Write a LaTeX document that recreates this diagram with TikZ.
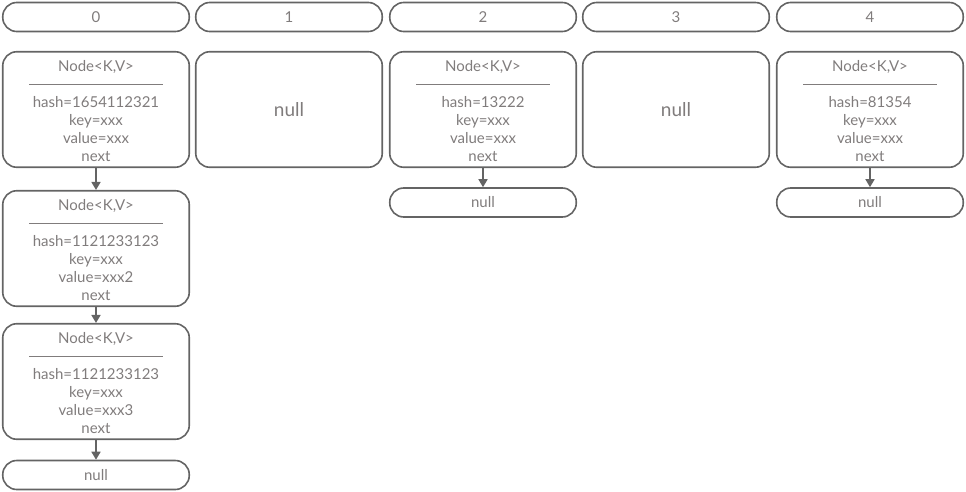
\documentclass[tikz,border=0pt]{standalone}
\usepackage{fontspec}
\setmainfont{Lato}
\usetikzlibrary{arrows.meta}
\definecolor{bord}{RGB}{100,100,100}
\definecolor{txt}{RGB}{128,124,124}
\newcommand\sepline{\rule[5pt]{134pt}{0.8pt}}
\newcommand\toplift{\rule{0pt}{15pt}}
\begin{document}
\begin{tikzpicture}[x=1pt,y=-1pt,
 box/.style={draw=bord,line width=1.6pt,rounded corners=14pt,inner sep=0pt,text=txt,align=center,font=\fontsize{15}{18}\selectfont},
 hdr/.style={box,minimum width=186.5pt,minimum height=29pt},
 entry/.style={box,minimum width=186.5pt,minimum height=115.5pt},
 bignull/.style={entry,font=\fontsize{19}{20}\selectfont},
 link/.style={draw=bord,line width=1.6pt,-{Triangle[length=8pt,width=9pt]}}]
\useasboundingbox (0,0) rectangle (966,492);
% headers
\node[hdr] (h0) at (96,17) {0};
\node[hdr] (h1) at (289,17) {1};
\node[hdr] (h2) at (483,17) {2};
\node[hdr] (h3) at (676,17) {3};
\node[hdr] (h4) at (870,17) {4};
% bucket 0
\node[entry] (a1) at (96,109.5) {\toplift Node<K,V>\\\sepline\\hash=1654112321\\key=xxx\\value=xxx\\next};
\node[entry] (a2) at (96,248.5) {\toplift Node<K,V>\\\sepline\\hash=1121233123\\key=xxx\\value=xxx2\\next};
\node[entry] (a3) at (96,381.5) {\toplift Node<K,V>\\\sepline\\hash=1121233123\\key=xxx\\value=xxx3\\next};
\node[hdr] (a4) at (96,475) {null};
% bucket 1
\node[bignull] (b1) at (289,109.5) {null};
% bucket 2
\node[entry] (c1) at (483,109.5) {\toplift Node<K,V>\\\sepline\\hash=13222\\key=xxx\\value=xxx\\next};
\node[hdr] (c2) at (483,202.5) {null};
% bucket 3
\node[bignull] (d1) at (676,109.5) {null};
% bucket 4
\node[entry] (e1) at (870,109.5) {\toplift Node<K,V>\\\sepline\\hash=81354\\key=xxx\\value=xxx\\next};
\node[hdr] (e2) at (870,202.5) {null};
% links
\draw[link] (a1) -- (a2);
\draw[link] (a2) -- (a3);
\draw[link] (a3) -- (a4);
\draw[link] (c1) -- (c2);
\draw[link] (e1) -- (e2);
\end{tikzpicture}
\end{document}
